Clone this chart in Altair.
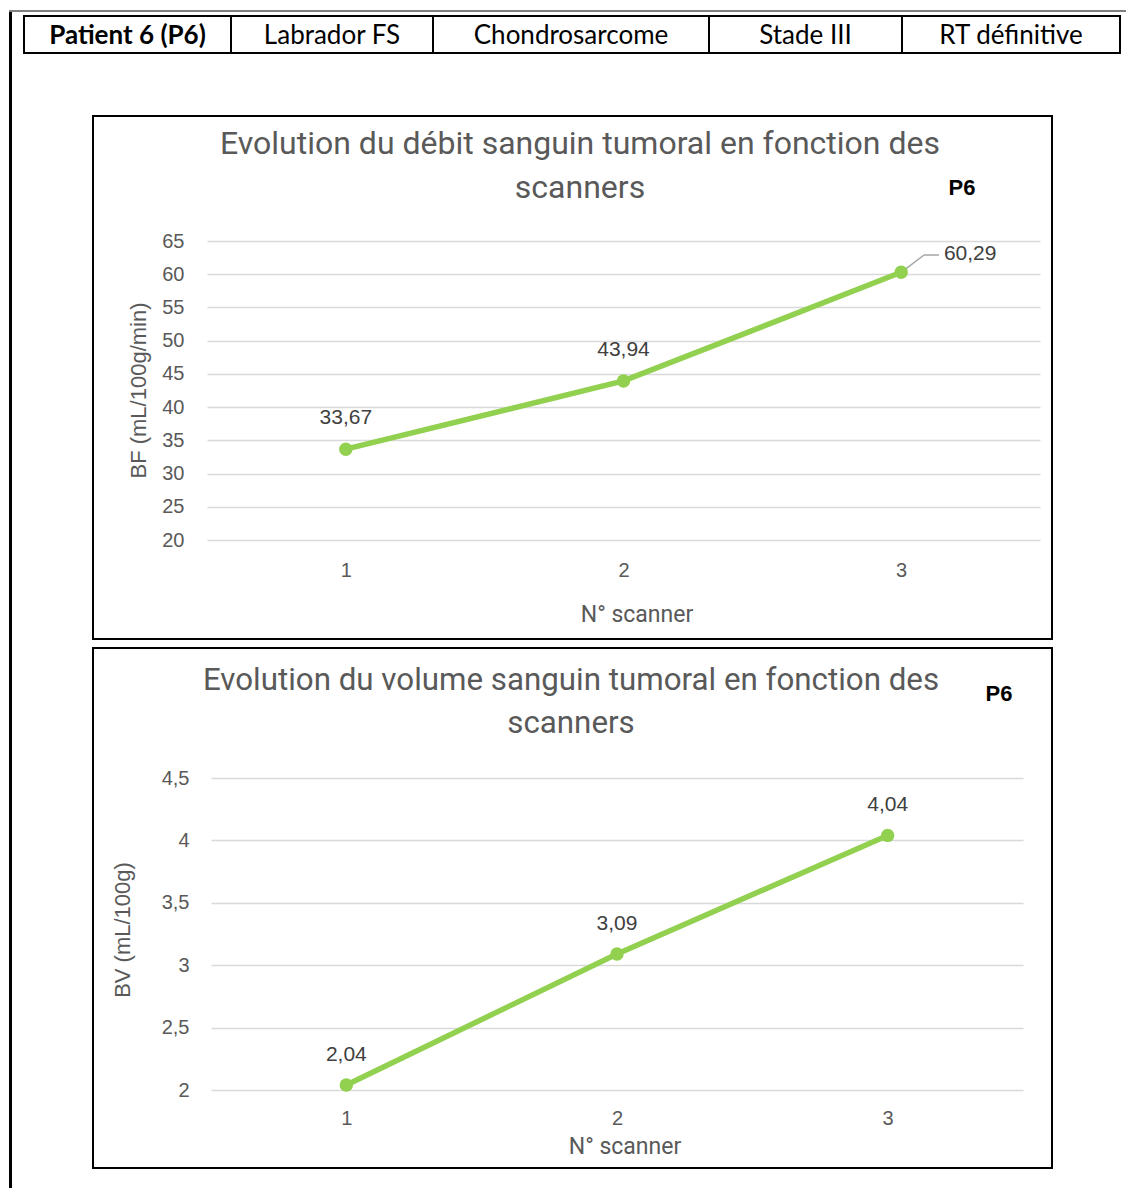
import altair as alt
import pandas as pd

# ---------------- data ----------------
scanners = [1, 2, 3]
bf_values = [33.67, 43.94, 60.29]
bf_labels = ["33,67", "43,94", "60,29"]
bv_values = [2.04, 3.09, 4.04]
bv_labels = ["2,04", "3,09", "4,04"]
bf_ticks = [20, 25, 30, 35, 40, 45, 50, 55, 60, 65]
bv_ticks = [2, 2.5, 3, 3.5, 4, 4.5]
header_cells = ["Patient 6 (P6)", "Labrador FS", "Chondrosarcome", "Stade III", "RT définitive"]
header_bold = [True, False, False, False, False]
title1 = ["Evolution du débit sanguin tumoral en fonction des", "scanners"]
title2 = ["Evolution du volume sanguin tumoral en fonction des", "scanners"]
ytitle1 = "BF (mL/100g/min)"
ytitle2 = "BV  (mL/100g)"
xtitle = "N° scanner"
tag = "P6"

# ---------------- layout constants ----------------
W1, H1 = 833, 299
W2, H2 = 816, 312
HDR_H = 225
SPACER_H = 238
header_edges = [-183, 24, 226, 502, 695, 913]

GREEN = "#92D050"
GREY_TXT = "#595959"
TITLE_FONT = "Roboto"
NUM_FONT = "Liberation Sans"
one = pd.DataFrame({"k": [0]})

# ---------------- header table ----------------
hdr = pd.DataFrame({
    "label": header_cells,
    "bold": header_bold,
    "x0": header_edges[:-1],
    "x1": header_edges[1:],
})
hdr["xc"] = (hdr["x0"] + hdr["x1"]) / 2

hdr_rect = alt.Chart(hdr).mark_rect(fill="white", stroke="black", strokeWidth=2).encode(
    x=alt.X("x0:Q", scale=None, axis=None), x2="x1:Q",
    y=alt.value(0), y2=alt.value(37))
hdr_txt_b = alt.Chart(hdr).transform_filter("datum.bold").mark_text(
    font="Lato", fontSize=26, fontWeight="bold", color="black", baseline="middle", align="center"
).encode(x=alt.X("xc:Q", scale=None, axis=None), y=alt.value(20), text="label:N")
hdr_txt = alt.Chart(hdr).transform_filter("!datum.bold").mark_text(
    font="Lato", fontSize=26, color="black", baseline="middle", align="center"
).encode(x=alt.X("xc:Q", scale=None, axis=None), y=alt.value(20), text="label:N")
frame_left = alt.Chart(one).mark_rule(color="black", strokeWidth=3).encode(
    x=alt.value(-196.5), y=alt.value(-6), y2=alt.value(1172))
frame_top = alt.Chart(one).mark_rule(color="#808080", strokeWidth=2).encode(
    x=alt.value(-198), x2=alt.value(919), y=alt.value(-5))

header = alt.layer(frame_left, frame_top, hdr_rect, hdr_txt_b, hdr_txt).properties(width=W1, height=HDR_H)


def panel(values, labels, ticks, ydom, W, H, title, ytitle, geo, label_expr, leader=False):
    df = pd.DataFrame({"scanner": scanners, "value": values, "label": labels})
    x = alt.X("scanner:Q", scale=alt.Scale(domain=[0.5, 3.5], nice=False, range=[geo["xr0"], W]),
              axis=alt.Axis(values=[1, 2, 3], format="d", grid=False, domain=False, ticks=False,
                            labelFont=NUM_FONT, labelFontSize=20, labelColor=GREY_TXT,
                            labelPadding=geo["xlabpad"], title=None))
    y = alt.Y("value:Q", scale=alt.Scale(domain=ydom, nice=False, zero=False),
              axis=alt.Axis(values=ticks, grid=True, gridColor="#d9d9d9", gridWidth=1.6,
                            domain=False, ticks=False, labelFont=NUM_FONT, labelFontSize=20,
                            labelColor=GREY_TXT, labelPadding=geo["ylabpad"], title=None,
                            labelExpr=label_expr))
    base = alt.Chart(df).encode(x=x, y=y)
    frame = alt.Chart(one).mark_rect(fillOpacity=0, stroke="black", strokeWidth=2).encode(
        x=alt.value(geo["fx0"]), x2=alt.value(geo["fx1"]), y=alt.value(geo["fy0"]), y2=alt.value(geo["fy1"]))
    t1 = alt.Chart(one).mark_text(font=TITLE_FONT, fontSize=geo["tfs"], color=GREY_TXT, align="center", baseline="middle").encode(
        x=alt.value(geo["tx"]), y=alt.value(geo["ty1"]), text=alt.value(title[0]))
    t2 = alt.Chart(one).mark_text(font=TITLE_FONT, fontSize=geo["tfs"], color=GREY_TXT, align="center", baseline="middle").encode(
        x=alt.value(geo["tx"]), y=alt.value(geo["ty2"]), text=alt.value(title[1]))
    ptag = alt.Chart(one).mark_text(font=NUM_FONT, fontSize=22, fontWeight="bold", color="black", align="center", baseline="middle").encode(
        x=alt.value(geo["px"]), y=alt.value(geo["py"]), text=alt.value(tag))
    yt = alt.Chart(one).mark_text(font=NUM_FONT, fontSize=22, color=GREY_TXT, align="center", baseline="middle", angle=270).encode(
        x=alt.value(geo["ytx"]), y=alt.value(geo["yty"]), text=alt.value(ytitle))
    xt = alt.Chart(one).mark_text(font=TITLE_FONT, fontSize=23, color=GREY_TXT, align="center", baseline="middle").encode(
        x=alt.value(geo["xtx"]), y=alt.value(geo["xty"]), text=alt.value(xtitle))
    line = base.mark_line(color=GREEN, strokeWidth=5.5)
    pts = base.mark_circle(color=GREEN, size=180, opacity=1)
    layers = [frame, t1, t2, ptag, yt, xt, line, pts]
    if leader:
        lab_main = base.transform_filter("datum.scanner < 3").mark_text(
            font=NUM_FONT, fontSize=21, color="#404040", align="center", baseline="middle", dy=geo["ldy"]
        ).encode(text="label:N")
        lab_last = base.transform_filter("datum.scanner == 3").mark_text(
            font=NUM_FONT, fontSize=21, color="#404040", align="center", baseline="middle", dx=69, dy=-18
        ).encode(text="label:N")
        lead1 = base.transform_filter("datum.scanner == 3").mark_rule(color="#a6a6a6", strokeWidth=1.5).encode(
            x2=alt.value(717), y2=alt.value(14))
        lead2 = alt.Chart(one).mark_rule(color="#a6a6a6", strokeWidth=1.5).encode(
            x=alt.value(717), x2=alt.value(732), y=alt.value(14))
        layers = [frame, t1, t2, ptag, yt, xt, lead1, lead2, line, pts, lab_main, lab_last]
    else:
        lab = base.mark_text(font=NUM_FONT, fontSize=21, color="#404040", align="center", baseline="middle",
                             dy=geo["ldy"]).encode(text="label:N")
        layers.append(lab)
    return alt.layer(*layers).properties(width=W, height=H)


geo1 = dict(fx0=-114, fx1=845, fy0=-125, fy1=398, tx=373, ty1=-97, ty2=-53, px=755, py=-53,
            ytx=-68, yty=H1 / 2, xtx=430, xty=374, xlabpad=20, ylabpad=23, ldy=-31, xr0=0, tfs=32)
geo2 = dict(fx0=-114, fx1=845, fy0=-130, fy1=390, tx=364, ty1=-97, ty2=-54, px=792, py=-84,
            ytx=-84, yty=152, xtx=418, xty=369, xlabpad=18, ylabpad=18, ldy=-30, xr0=4, tfs=31.3)

chart1 = panel(bf_values, bf_labels, bf_ticks, [20, 65], W1, H1, title1, ytitle1, geo1,
               "format(datum.value, 'd')", leader=True)
chart2 = panel(bv_values, bv_labels, bv_ticks, [2, 4.5], W2, H2, title2, ytitle2, geo2,
               "replace(toString(datum.value), '.', ',')")

spacer = alt.Chart(one).mark_point(opacity=0).encode(x=alt.value(0), y=alt.value(0)).properties(width=W1, height=SPACER_H)

chart = alt.vconcat(header, chart1, spacer, chart2, spacing=0, bounds="flush").properties(
    padding=0, background="white"
).configure_view(stroke=None)

chart.save("out.html", embed_options={"renderer": "svg", "actions": False})
